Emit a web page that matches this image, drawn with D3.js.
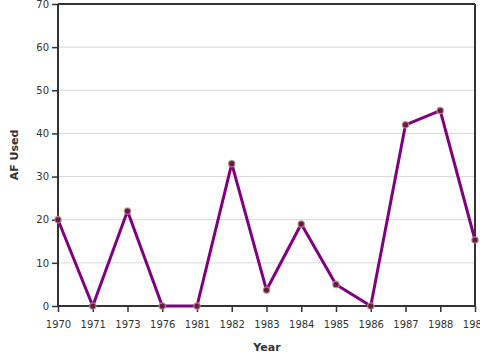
<!DOCTYPE html>
<html><head><meta charset="utf-8">
<script src="https://cdnjs.cloudflare.com/ajax/libs/d3/7.8.5/d3.min.js"></script>
<style>body{margin:0;background:#fff}svg{display:block}</style>
</head><body>
<script>
const years = ["1970","1971","1973","1976","1981","1982","1983","1984","1985","1986","1987","1988","1989"];
const afUsed = [20, 0, 22, 0, 0, 33, 3.7, 19, 5, 0, 42, 45.3, 15.3];
const yTicks = [0,10,20,30,40,50,60,70];

const W=480,H=360, m={l:58,r:5,t:4,b:54};
const svg=d3.select("body").append("svg").attr("width",W).attr("height",H)
  .style("font-family","DejaVu Sans, sans-serif");
const x=d3.scalePoint().domain(years).range([m.l,W-m.r]);
const y=d3.scaleLinear().domain([0,70]).range([H-m.b,m.t]);

svg.append("g").selectAll("line").data(yTicks.slice(1)).join("line")
  .attr("x1",m.l).attr("x2",W-m.r).attr("y1",d=>y(d)).attr("y2",d=>y(d))
  .attr("stroke","#d9d9d9").attr("stroke-width",1);

svg.append("line").attr("x1",m.l).attr("x2",W-m.r).attr("y1",y(70)).attr("y2",y(70)).attr("stroke","#333").attr("stroke-width",2);
svg.append("line").attr("x1",W-m.r).attr("x2",W-m.r).attr("y1",y(70)).attr("y2",y(0)).attr("stroke","#333").attr("stroke-width",2);

const ya=svg.append("g").attr("transform",`translate(${m.l},0)`)
  .call(d3.axisLeft(y).tickValues(yTicks).tickSize(6).tickPadding(3));
const xa=svg.append("g").attr("transform",`translate(0,${H-m.b})`)
  .call(d3.axisBottom(x).tickSize(6).tickPadding(9));
[ya,xa].forEach(g=>{
  g.select(".domain").attr("stroke","#333").attr("stroke-width",2);
  g.selectAll(".tick line").attr("stroke","#333").attr("stroke-width",1.5);
  g.selectAll("text").attr("fill","#333").style("font-size","10px").style("font-family","DejaVu Sans, sans-serif");
});
xa.select(".domain").attr("d",`M${m.l},0H${W-m.r}`);
ya.select(".domain").attr("d",`M0,${y(70)}V${y(0)}`);

const line=d3.line().x((d,i)=>x(years[i])).y(d=>y(d));
svg.append("path").datum(afUsed).attr("d",line).attr("fill","none")
  .attr("stroke","#800080").attr("stroke-width",3).attr("stroke-linejoin","round");
svg.append("g").selectAll("circle").data(afUsed).join("circle")
  .attr("cx",(d,i)=>x(years[i])).attr("cy",d=>y(d)).attr("r",3.2)
  .attr("fill","#6e1548").attr("stroke","#b09a8a").attr("stroke-opacity",0.8).attr("stroke-width",1.3);

svg.append("text").attr("x",267).attr("y",351).attr("text-anchor","middle")
  .style("font-size","11px").style("font-weight","bold").attr("fill","#333").text("Year");
svg.append("text").attr("transform",`translate(18,${(y(0)+y(70))/2}) rotate(-90)`).attr("text-anchor","middle")
  .style("font-size","11px").style("font-weight","bold").attr("fill","#333").text("AF Used");
</script>
</body></html>
